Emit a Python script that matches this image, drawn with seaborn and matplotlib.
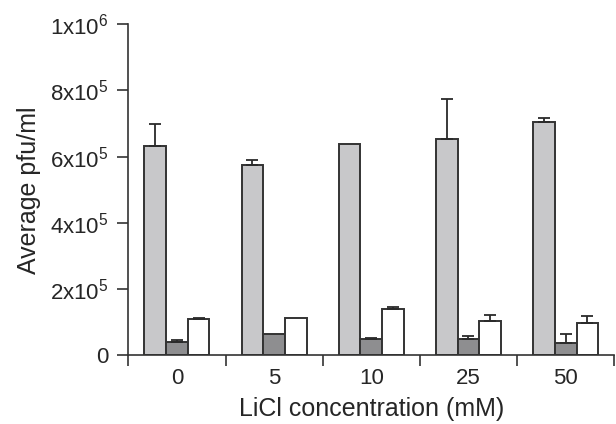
import numpy as np
import pandas as pd
import matplotlib
matplotlib.use("Agg")
import matplotlib.pyplot as plt
import seaborn as sns

# data
concentrations = ["0", "5", "10", "25", "50"]
series_names = ["A", "B", "C"]
grey_vals = [632e3, 576e3, 638e3, 654e3, 705e3]
grey_err = [66e3, 15e3, 0, 120e3, 12e3]
dark_vals = [41e3, 63e3, 49e3, 49e3, 37e3]
dark_err = [6e3, 0, 2e3, 9e3, 26e3]
white_vals = [111e3, 114e3, 141e3, 103e3, 99e3]
white_err = [3e3, 0, 5e3, 19e3, 19e3]
ytick_vals = [0, 2e5, 4e5, 6e5, 8e5, 1e6]
ytick_labels = ["0", "2x10$^5$", "4x10$^5$", "6x10$^5$", "8x10$^5$", "1x10$^6$"]

sns.set_style("ticks")
plt.rcParams['font.family'] = ['Liberation Sans', 'DejaVu Sans']
plt.rcParams['mathtext.default'] = 'regular'

df = pd.DataFrame({
    'conc': concentrations * 3,
    'series': np.repeat(series_names, 5),
    'value': grey_vals + dark_vals + white_vals,
})
errs = [grey_err, dark_err, white_err]
colors = ["#c8c8ca", "#8e8e90", "#ffffff"]

fig = plt.figure(figsize=(6.16, 4.24), dpi=100)
ax = fig.add_axes([0.2083, 0.162, 0.7889, 0.7807])

sns.barplot(data=df, x='conc', y='value', hue='series', order=concentrations,
            hue_order=series_names, palette=colors, width=0.67, gap=0,
            edgecolor="#333333", linewidth=1.4, saturation=1, errorbar=None,
            legend=False, ax=ax)

# one-sided (upward) error bars on top of the bars
for container, err in zip(ax.containers, errs):
    xs = np.array([p.get_x() + p.get_width() / 2 for p in container.patches])
    ys = np.array([p.get_height() for p in container.patches])
    e = np.array(err)
    mask = e > 0
    ax.errorbar(xs[mask], ys[mask], yerr=[np.zeros(mask.sum()), e[mask]], fmt='none',
                ecolor="#2a2a2a", elinewidth=1.3, capsize=4.5, capthick=1.3,
                zorder=1)

ax.set_ylim(0, 1e6)
ax.set_xlim(-0.5, 4.5)
ax.set_yticks(ytick_vals)
ax.set_yticklabels(ytick_labels)
ax.set_xticks(np.arange(-0.5, 5, 1.0))
ax.set_xticklabels([])
ax.set_xticks(range(5), minor=True)
ax.set_xticklabels(concentrations, minor=True)
ax.tick_params(axis='x', which='minor', length=0, labelsize=16, pad=9)
ax.tick_params(axis='x', which='major', length=8, width=1.2, color="#333333")
ax.tick_params(axis='y', length=8, width=1.2, color="#333333", labelsize=16, pad=6)
for s in ['top', 'right']:
    ax.spines[s].set_visible(False)
for s in ['left', 'bottom']:
    ax.spines[s].set_linewidth(1.2)
    ax.spines[s].set_color("#333333")

ax.set_xlabel("LiCl concentration (mM)", fontsize=18, labelpad=6)
ax.set_ylabel("Average pfu/ml", fontsize=18, labelpad=7)

fig.savefig("out.png", dpi=100)
